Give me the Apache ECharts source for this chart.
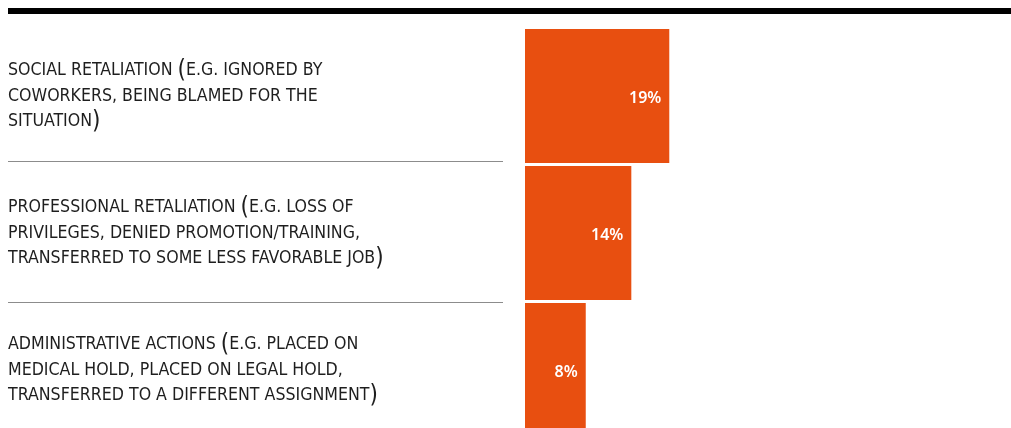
<!DOCTYPE html>
<html>
<head>
<meta charset="utf-8">
<script src="https://cdn.jsdelivr.net/npm/echarts@6/dist/echarts.min.js"></script>
<style>
  html, body { margin: 0; padding: 0; background: #fff; }
  #chart { width: 1011px; height: 428px; }
</style>
</head>
<body>
<div id="chart"></div>
<script>
// Forms of retaliation experienced, share of respondents
const categories = [
  'SOCIAL RETALIATION (E.G. IGNORED BY\nCOWORKERS, BEING BLAMED FOR THE\nSITUATION)',
  'PROFESSIONAL RETALIATION (E.G. LOSS OF\nPRIVILEGES, DENIED PROMOTION/TRAINING,\nTRANSFERRED TO SOME LESS FAVORABLE JOB)',
  'ADMINISTRATIVE ACTIONS (E.G. PLACED ON\nMEDICAL HOLD, PLACED ON LEGAL HOLD,\nTRANSFERRED TO A DIFFERENT ASSIGNMENT)'
];
const shares = [19, 14, 8];

const LABEL_FONT = '"Liberation Sans Narrow", "DejaVu Sans Condensed", sans-serif';

// Wrap plain text in rich-text blocks, drawing brackets a little taller
function richLabel(text) {
  return text.split('\n').map(function (line) {
    return line.split(/([()])/).filter(function (s) { return s.length; })
      .map(function (s) { return (s === '(' || s === ')') ? '{p|' + s + '}' : '{t|' + s + '}'; })
      .join('');
  }).join('\n');
}

const chart = echarts.init(document.getElementById('chart'), null, { renderer: 'canvas' });

// The plot runs past the bottom edge of the canvas, so the last row is cropped
chart.setOption({
  animation: false,
  backgroundColor: '#ffffff',
  graphic: [{
    type: 'rect',
    shape: { x: 8, y: 8, width: 1003, height: 6 },
    style: { fill: '#000000' }
  }],
  grid: [
    { left: 525, right: 0, top: 27.5, height: 411, outerBoundsMode: 'none' },
    { left: 8, width: 495, top: 20, height: 423, outerBoundsMode: 'none' }
  ],
  xAxis: [
    { type: 'value', gridIndex: 0, min: 0, max: 64, show: false },
    { type: 'value', gridIndex: 1, min: 0, max: 1, show: false }
  ],
  yAxis: [
    {
      type: 'category', gridIndex: 0, data: categories, inverse: true,
      axisLine: { show: false }, axisTick: { show: false }, splitLine: { show: false },
      axisLabel: {
        align: 'left',
        margin: 517,
        formatter: richLabel,
        rich: {
          t: { fontFamily: LABEL_FONT, fontSize: 17.6, color: '#1e1e1e', lineHeight: 25.5 },
          p: { fontFamily: LABEL_FONT, fontSize: 24, color: '#1e1e1e', lineHeight: 25.5 }
        }
      }
    },
    {
      type: 'category', gridIndex: 1, data: categories, inverse: true,
      axisLine: { show: false }, axisTick: { show: false }, axisLabel: { show: false },
      splitLine: {
        show: true,
        interval: function (i) { return i > 0; },
        lineStyle: { color: '#8c8c8c', width: 1 }
      }
    }
  ],
  series: [{
    type: 'bar',
    xAxisIndex: 0,
    yAxisIndex: 0,
    data: shares,
    barCategoryGap: '2.2%',
    itemStyle: { color: '#e84f10' },
    label: {
      show: true,
      position: 'insideRight',
      distance: 8,
      offset: [0, 2],
      formatter: '{c}%',
      color: '#ffffff',
      fontFamily: '"Noto Sans", sans-serif',
      fontWeight: 600,
      fontSize: 16
    }
  }]
});
</script>
</body>
</html>
